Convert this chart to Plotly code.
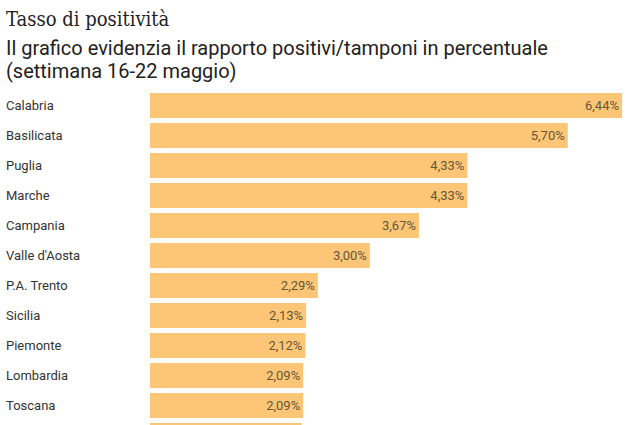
import plotly.graph_objects as go

regions = ["Calabria", "Basilicata", "Puglia", "Marche", "Campania", "Valle d'Aosta",
           "P.A. Trento", "Sicilia", "Piemonte", "Lombardia", "Toscana", "Sardegna"]
values = [6.44, 5.70, 4.33, 4.33, 3.67, 3.00, 2.29, 2.13, 2.12, 2.09, 2.09, 2.07]
n_visible = 11
labels = [f"{v:.2f}%".replace(".", ",") if i < n_visible else "" for i, v in enumerate(values)]
title = "Tasso di positività"
subtitle_lines = ["Il grafico evidenzia il rapporto positivi/tamponi in percentuale",
                  "(settimana 16-22 maggio)"]

BAR = "#FDC676"
fig = go.Figure(go.Bar(
    x=values, y=list(range(len(regions))), orientation="h",
    marker=dict(color=BAR, line=dict(width=0)),
    text=labels, textposition="inside", insidetextanchor="end",
    textfont=dict(family="Roboto", size=13, color="#655638"),
    cliponaxis=True, hoverinfo="skip",
))

for i, r in enumerate(regions[:n_visible]):
    fig.add_annotation(x=0, xref="paper", y=i, yref="y", text=r, showarrow=False,
                       xanchor="left", xshift=-146, font=dict(family="Roboto", size=13, color="#333333"))

fig.add_annotation(x=0, y=1, xref="paper", yref="paper", xanchor="left", yanchor="middle",
                   xshift=-146, yshift=71, showarrow=False, text=title,
                   font=dict(family="DejaVu Serif Condensed, DejaVu Serif", size=20, color="#222222"))
for k, (line, ys) in enumerate(zip(subtitle_lines, [42, 19])):
    fig.add_annotation(x=0, y=1, xref="paper", yref="paper", xanchor="left", yanchor="middle",
                       xshift=-146, yshift=ys, showarrow=False, text=line,
                       font=dict(family="Roboto", size=20, color="#222222"))

fig.update_layout(
    width=633, height=425, margin=dict(l=150, r=11, t=90, b=0),
    paper_bgcolor="white", plot_bgcolor="white", bargap=0.16, showlegend=False,
    xaxis=dict(range=[0, 6.44], visible=False, fixedrange=True),
    yaxis=dict(range=[10.65, -0.517], visible=False, fixedrange=True),
)
fig.write_html("out.html", config={"displayModeBar": False},
               post_script="document.body.style.margin='0';")
